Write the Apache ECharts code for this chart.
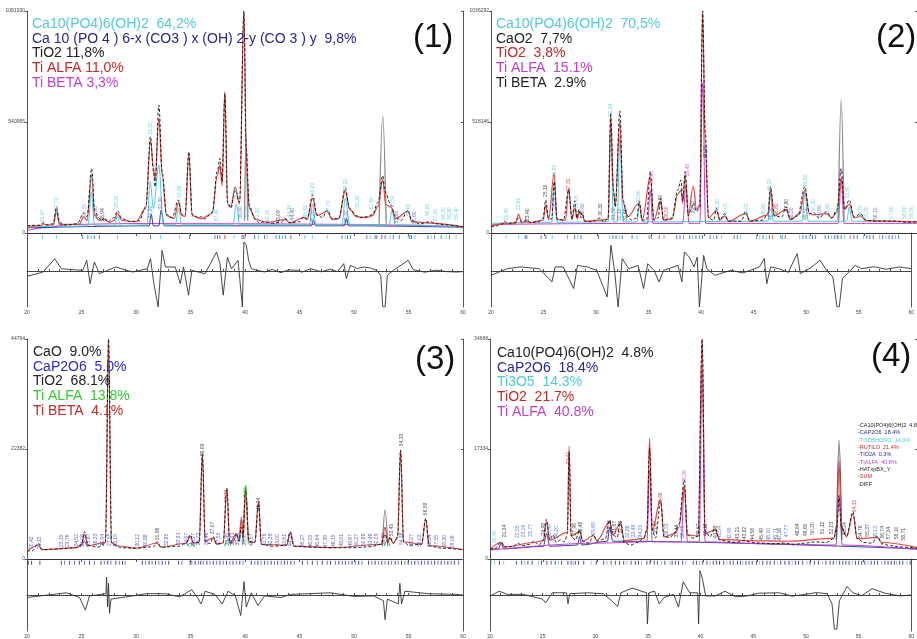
<!DOCTYPE html>
<html>
<head>
<meta charset="utf-8">
<script src="https://cdn.jsdelivr.net/npm/echarts@6/dist/echarts.min.js"></script>
<style>
  html, body { margin: 0; padding: 0; background: #fff; }
  #chart { width: 917px; height: 639px; }
</style>
</head>
<body>
<div id="chart"></div>
<script>
// ---------- panel (1) ----------
var p1Top = 1081930;
var p1Obs = [[20,36000],[21.2,38000],[21.5,50000],[21.8,40000],[22.4,45000],[22.7,125000],[23.0,50000],[23.6,38000],[24.6,45000],[25.2,97000],[25.5,80000],[25.94,315000],[26.2,110000],[26.6,73000],[26.8,60000],[27.1,75000],[27.4,55000],[28.0,75000],[28.3,109000],[28.7,70000],[29.5,55000],[30.3,60000],[30.9,130000],[31.33,470000],[31.6,300000],[31.75,225000],[32.1,624000],[32.4,300000],[32.8,90000],[33.3,75000],[33.9,161000],[34.2,90000],[34.5,85000],[34.85,396000],[35.15,90000],[35.7,75000],[36.0,80000],[36.3,68000],[37.0,100000],[37.45,300000],[37.7,364000],[37.9,250000],[38.15,680000],[38.4,150000],[38.7,120000],[39.1,210000],[39.5,150000],[39.9,1081000],[40.1,420000],[40.4,130000],[40.9,70000],[41.3,50000],[41.8,55000],[42.5,48000],[43.3,52000],[43.7,70000],[44.1,50000],[45.0,55000],[45.4,80000],[45.7,70000],[46.2,185000],[46.6,90000],[47.1,75000],[47.55,112000],[48.0,70000],[48.6,70000],[49.2,218000],[49.6,120000],[50.2,85000],[50.6,75000],[51.2,80000],[51.7,90000],[52.2,150000],[52.64,280000],[52.85,200000],[53.4,136000],[53.8,80000],[54.3,60000],[54.97,112000],[55.3,60000],[56.0,45000],[57.0,55000],[57.5,45000],[58.5,40000],[59.3,35000],[60,30000]];
var p1Calc = [[20,32000],[21.3,36000],[21.5,45000],[21.8,38000],[22.4,40000],[22.7,110000],[23.0,42000],[24.8,42000],[25.2,80000],[25.5,60000],[25.94,285000],[26.2,90000],[26.6,62000],[27.1,65000],[27.6,52000],[28.0,62000],[28.3,95000],[28.7,62000],[30.0,55000],[30.9,120000],[31.33,450000],[31.6,320000],[31.75,260000],[32.1,560000],[32.4,280000],[32.8,85000],[33.5,70000],[33.9,150000],[34.2,85000],[34.5,80000],[34.85,385000],[35.15,85000],[36.0,70000],[37.0,95000],[37.45,280000],[37.7,330000],[37.9,230000],[38.15,689000],[38.4,140000],[38.7,130000],[39.1,225000],[39.5,140000],[39.9,1081000],[40.15,300000],[40.4,120000],[41.0,65000],[42.0,52000],[43.7,65000],[44.1,50000],[45.4,75000],[45.7,65000],[46.2,170000],[46.6,85000],[47.55,105000],[48.0,65000],[48.6,70000],[49.2,205000],[49.6,115000],[50.2,80000],[51.2,75000],[51.7,85000],[52.2,130000],[52.64,260000],[52.9,140000],[53.4,125000],[53.8,70000],[54.97,105000],[55.3,55000],[57.0,48000],[60,30000]];
var p1Cyan = [[20,30000],[22.4,32000],[22.7,95000],[23.0,32000],[25.6,35000],[25.9,200000],[26.2,36000],[28.0,36000],[28.3,80000],[28.6,36000],[31.0,40000],[31.3,250000],[31.6,120000],[32.1,330000],[32.5,40000],[33.6,40000],[33.9,120000],[34.2,40000],[38.9,40000],[39.2,140000],[39.5,40000],[45.9,40000],[46.2,140000],[46.5,40000],[48.9,40000],[49.2,170000],[49.6,40000],[53.2,40000],[53.5,110000],[53.8,40000],[60,30000]];
var p1Blue = [[20,25000],[31.2,35000],[31.4,90000],[31.6,35000],[32.1,35000],[32.3,110000],[32.6,35000],[46.1,35000],[46.3,60000],[46.5,35000],[49.1,35000],[49.3,70000],[49.5,35000],[60,28000]];
var p1Back = [[20,12000],[22,28000],[24,42000],[30,46000],[40,45000],[50,42000],[55,38000],[60,30000]];
var p1Gray = [[39.95,60000],[40.1,470000],[40.25,60000],[40.3,'-'],[52.3,45000],[52.64,570000],[52.95,45000]];
var p1Diff = [[20.0,-26000],[21.48,-5000],[22.55,60000],[23.15,11000],[25.12,3000],[25.48,52000],[25.79,-62000],[26.18,44000],[26.64,-13000],[28.15,19500],[29.67,-5000],[31.03,11000],[31.33,60000],[31.64,-62000],[32.03,-175000],[32.39,100000],[32.7,19500],[33.6,19500],[34.06,-62000],[34.36,19500],[34.82,-118000],[35.12,3000],[36.33,-13000],[37.39,92000],[37.7,36000],[38.0,-118000],[38.39,68000],[38.76,11000],[39.36,52000],[39.76,-175000],[39.9,141000],[40.12,125000],[40.33,52000],[40.58,11000],[41.79,-5000],[42.5,8000],[43.3,-8000],[44.0,6000],[44.82,3000],[45.2,-6000],[46.03,11000],[47.0,-4000],[47.8,9000],[48.5,-3000],[49.06,36000],[49.3,-37000],[49.67,28000],[50.3,12000],[50.88,19500],[51.5,15000],[52.09,3000],[52.45,-21000],[52.64,-175000],[52.85,-175000],[53.06,-21000],[53.6,3000],[54.97,52000],[55.43,6500],[56.5,-6000],[57.5,4000],[58.5,-3000],[59.36,-5000],[60,-3000]];
var p1TicksCyan = [21.42,22.70,25.88,28.30,32.24,34.0,39.0,41.24,42.03,43.45,45.48,46.18,47.55,49.2,51.48,53.3,54.97,55.58,57.09,58.45,59.36];
var p1TicksBlue = [25.12,25.58,26.18,26.64,31.33,37.24,37.48,39.73,40.88,41.79,42.85,43.15,43.7,44.2,48.9,49.4,49.67,51.18,51.94,52.09,52.85,53.6,54.15,55.12,55.27,56.79,57.39,58.0,58.76];
var p1TicksRed = [34.9,37.70,38.15,52.55];
var p1TicksMag = [39.85,40.0];
var p1LabCyan = [[21.47,83000],[22.72,141000],[25.3,112000],[25.95,245000],[28.2,153000],[31.3,510000],[33.98,201000],[37.4,88000],[39.1,190000],[40.2,100000],[41.2,92000],[42.1,83000],[44.1,107000],[45.6,107000],[46.2,214000],[47.7,128000],[49.2,234000],[50.3,153000],[51.6,145000],[53.5,153000],[55.0,112000],[56.8,112000],[57.5,88000],[58.2,95000],[58.8,95000],[59.4,95000]];
var p1LabBlue = [[26.3,100000],[31.3,102000],[32.3,145000],[39.6,100000],[44.4,92000],[46.2,80000],[49.3,80000],[53.9,78000],[55.6,75000]];
var p1LabBlack = [[26.94,90000],[43.09,80000]];

// ---------- panel (2) ----------
var p2Top = 1036292;
var p2Obs = [[20,30000],[20.5,33000],[21.0,40000],[21.28,55000],[21.6,45000],[22.3,50000],[22.58,70000],[22.9,50000],[23.34,60000],[23.7,50000],[24.5,52000],[24.9,70000],[25.13,154000],[25.4,70000],[25.7,65000],[25.93,240000],[26.2,65000],[26.8,60000],[27.29,200000],[27.6,65000],[27.87,150000],[28.05,70000],[28.27,110000],[28.45,70000],[28.57,95000],[28.8,55000],[29.5,52000],[30.24,70000],[30.6,50000],[31.0,70000],[31.24,560000],[31.5,200000],[31.67,120000],[32.1,570000],[32.4,150000],[32.82,80000],[33.2,60000],[33.7,70000],[33.92,150000],[34.2,60000],[34.6,60000],[34.95,286000],[35.3,60000],[35.7,70000],[35.92,162000],[36.2,60000],[37.0,70000],[37.53,200000],[37.84,247000],[38.0,150000],[38.23,286000],[38.53,80000],[38.8,110000],[38.99,140000],[39.3,100000],[39.6,120000],[39.87,1036000],[40.12,470000],[40.42,70000],[40.9,60000],[41.18,115000],[41.5,60000],[41.94,90000],[42.3,55000],[43.5,55000],[43.91,100000],[44.3,55000],[45.5,60000],[46.0,90000],[46.25,216000],[46.6,80000],[47.3,75000],[47.71,123000],[48.1,65000],[48.8,80000],[49.47,216000],[49.9,90000],[50.29,95000],[50.8,70000],[51.51,100000],[52.0,70000],[52.5,110000],[52.88,300000],[53.2,110000],[53.64,154000],[54.1,75000],[54.7,90000],[55.2,60000],[56.0,55000],[57.0,55000],[58.0,55000],[59.0,50000],[60,52000]];
var p2Calc = [[20,30000],[21.28,45000],[21.6,42000],[22.3,45000],[22.58,88000],[22.9,48000],[23.34,55000],[23.7,48000],[24.9,60000],[25.13,130000],[25.4,62000],[25.93,278000],[26.2,62000],[27.0,60000],[27.29,208000],[27.6,62000],[27.87,120000],[28.1,65000],[28.27,100000],[28.57,85000],[28.8,55000],[30.24,60000],[31.0,65000],[31.24,540000],[31.5,190000],[31.67,130000],[32.1,520000],[32.4,140000],[32.82,75000],[33.92,140000],[34.2,60000],[34.95,262000],[35.3,60000],[35.92,150000],[36.2,60000],[37.0,65000],[37.53,180000],[37.84,200000],[38.0,140000],[38.23,265000],[38.53,85000],[38.99,219000],[39.3,110000],[39.6,130000],[39.87,1036000],[40.12,400000],[40.42,70000],[41.18,105000],[41.5,60000],[41.94,80000],[42.3,55000],[43.91,90000],[44.3,55000],[46.0,85000],[46.25,200000],[46.6,80000],[47.71,110000],[48.1,62000],[49.0,90000],[49.47,200000],[49.9,90000],[50.29,85000],[51.51,90000],[52.0,70000],[52.5,100000],[52.88,256000],[53.2,110000],[53.64,135000],[54.1,70000],[54.7,80000],[55.2,58000],[60,52000]];
var p2Cyan = [[20,45000],[25.7,50000],[25.93,230000],[26.2,50000],[31.0,52000],[31.24,480000],[31.5,52000],[31.85,52000],[32.1,450000],[32.4,52000],[33.7,52000],[33.92,130000],[34.2,52000],[46.0,55000],[46.25,180000],[46.5,55000],[49.2,55000],[49.47,190000],[49.8,55000],[53.4,55000],[53.64,120000],[53.9,55000],[60,52000]];
var p2Mag = [[20,40000],[34.7,45000],[34.95,200000],[35.2,45000],[38.0,45000],[38.3,220000],[38.6,45000],[39.6,45000],[39.87,700000],[40.15,45000],[52.6,45000],[52.88,250000],[53.15,45000],[60,45000]];
var p2Gray = [[52.6,60000],[52.88,621000],[53.15,60000]];
var p2Diff = [[20.0,-20000],[21.55,11000],[22.77,19000],[24.59,11000],[25.8,-51000],[26.11,19000],[26.87,19000],[27.87,-82000],[28.23,26000],[29.15,19000],[30.06,3000],[31.06,-121000],[31.42,120000],[31.79,-12000],[32.1,-168000],[32.49,58000],[33.1,11000],[34.01,26000],[34.52,-82000],[34.92,34000],[35.53,3000],[35.98,-51000],[36.44,3000],[37.8,26000],[38.17,-51000],[38.41,89000],[38.87,65000],[39.33,19000],[39.63,65000],[39.84,-168000],[40.24,73000],[40.54,11000],[41.3,-20000],[42.82,3000],[44.0,-9000],[45.55,19000],[46.01,58000],[46.25,-59000],[46.62,19000],[47.38,11000],[48.3,-6000],[49.14,81000],[49.44,-12000],[50.4,14000],[51.33,50000],[51.93,3000],[52.54,-28000],[52.94,-168000],[53.15,-168000],[53.45,-36000],[54.67,26000],[55.28,11000],[56.5,20000],[57.6,8000],[58.83,19000],[60,11000]];
var p2TicksCyan = [21.43,22.64,25.83,28.27,31.3,32.2,33.89,39.2,41.18,41.94,43.76,45.58,46.19,47.56,49.38,50.29,52.42,53.64,55.46,56.98,57.59,58.5];
var p2TicksNavy = [23.25,23.4,24.77,25.23,27.96,28.57,30.24,31.6,31.9,32.5,33.43,35.25,36.01,37.68,37.99,38.9,39.51,40.12,40.87,41.48,43.15,43.45,45.28,45.89,46.5,47.71,48.01,49.69,49.99,50.6,50.9,51.81,52.12,52.72,53.03,53.33,54.55,54.86,55.77,56.07,56.38,57.28,57.89,58.2,58.8];
var p2TicksRed = [27.29,36.47,46.8,54.2];
var p2TicksMag = [35.05,38.32,39.85,52.95];
var p2LabCyan = [[21.45,88000],[22.6,135000],[25.95,290000],[28.05,146000],[31.24,574000],[33.9,170000],[41.3,130000],[42.0,110000],[44.0,110000],[45.6,110000],[46.2,224000],[49.5,243000],[50.3,130000],[51.6,110000],[52.6,100000],[53.5,190000],[54.7,100000],[55.3,95000],[57.6,95000],[58.8,95000],[59.5,95000]];
var p2LabBlue = [[26.0,140000],[28.6,110000],[31.5,90000],[32.1,85000],[39.0,120000],[46.3,90000],[48.2,90000],[49.5,90000],[50.9,100000],[56.1,90000]];
var p2LabBlack = [[23.4,85000],[25.15,197000],[30.3,110000],[32.6,85000],[35.9,150000],[40.15,380000],[47.8,130000]];
var p2LabRed = [[27.3,225000],[36.5,95000],[46.8,110000]];
var p2LabMag = [[35.1,263000],[38.45,294000],[52.9,270000]];

// ---------- panel (3) ----------
var p3Top = 44764;
var p3Obs = [[20,1600],[20.5,1700],[21.03,3200],[21.4,1900],[22.5,2000],[23.5,2100],[24.5,2300],[25.0,3000],[25.27,5560],[25.6,2800],[26.5,2400],[27.2,3200],[27.48,44764],[27.75,3300],[28.15,2850],[28.6,2300],[30.0,2200],[31.6,2500],[31.94,3530],[32.3,2400],[34.0,2600],[34.6,3300],[34.97,4880],[35.3,3200],[35.8,3400],[36.09,21160],[36.35,3600],[36.8,3100],[37.09,4540],[37.4,3000],[38.0,3300],[38.33,14390],[38.6,3300],[38.9,3300],[39.21,5290],[39.45,3700],[39.67,6500],[39.8,4500],[40.06,14040],[40.35,3600],[40.9,3400],[41.24,11330],[41.5,3000],[42.5,2600],[43.8,2800],[44.15,5560],[44.5,2600],[46,2400],[48,2300],[50,2300],[51.5,2500],[52.5,3000],[52.85,5000],[53.1,3400],[53.3,4540],[53.6,3200],[54.0,4500],[54.27,22180],[54.55,3500],[55.0,2800],[56.2,3000],[56.58,8280],[56.9,2700],[58,2200],[60,1900]];
var p3Calc = [[20,1600],[21.03,2800],[21.4,1900],[24.5,2300],[25.0,2800],[25.27,5000],[25.6,2700],[27.2,3400],[27.48,44764],[27.75,3400],[28.15,2700],[30.0,2200],[31.94,3200],[32.3,2400],[34.6,3200],[34.97,4600],[35.3,3200],[35.8,3500],[36.09,21500],[36.35,3600],[37.09,4300],[37.4,3000],[38.0,3300],[38.33,14390],[38.6,3300],[39.21,5000],[39.45,3700],[39.67,8000],[39.85,4500],[40.06,14500],[40.35,3500],[40.9,3400],[41.24,11800],[41.5,3000],[43.8,2800],[44.15,5300],[44.5,2600],[48,2300],[52.5,3000],[52.85,6500],[53.1,3400],[53.3,4300],[53.6,3200],[54.0,4300],[54.27,22180],[54.55,3500],[56.2,3000],[56.58,8000],[56.9,2700],[60,1900]];
var p3Green = [[34.9,2400],[35.2,3000],[35.4,2400],[35.5,'-'],[38.1,2600],[38.45,4000],[38.7,2600],[38.8,'-'],[39.8,3000],[40.06,15000],[40.3,3000],[40.4,'-'],[52.8,2600],[53.05,4000],[53.3,2600]];
var p3Blue = [[24.9,2400],[25.27,3500],[25.6,2400],[25.7,'-'],[34.7,2600],[35.0,3200],[35.3,2600]];
var p3Gray = [[39.5,3500],[39.67,8610],[39.85,3500],[39.9,'-'],[52.6,2600],[52.85,9970],[53.1,2600]];
var p3Diff = [[20.0,-540],[23.61,475],[24.82,-540],[25.36,-3250],[25.73,-200],[27.24,270],[27.3,3860],[27.39,-2580],[27.48,2510],[27.57,-3930],[27.7,-880],[29.67,-200],[31.0,300],[32.7,270],[34.0,-400],[35.12,1150],[35.73,-880],[35.94,-1900],[36.09,-1220],[36.33,810],[37.24,135],[37.91,-1900],[38.45,810],[39.12,-200],[39.61,-4410],[39.91,2850],[40.12,-2580],[40.58,475],[41.18,-2240],[41.79,-200],[43.3,-540],[44.21,135],[46.0,300],[47.85,475],[50.0,-300],[51.79,-200],[52.7,-1220],[52.85,-5290],[53.06,-880],[54.06,-1900],[54.21,2510],[54.36,-1900],[54.67,810],[56.94,270],[59.36,135],[60,0]];
var p3TicksNavy = [20.12,20.42,21.18,23.15,23.91,24.8,25.73,26.79,27.41,28.15,28.76,30.58,31.2,31.79,32.41,33.0,33.91,34.97,35.42,35.94,36.5,37.09,37.7,38.3,38.9,39.52,40.58,41.18,41.8,42.4,43.0,43.61,44.21,45.27,46.18,47.09,47.85,48.61,49.21,49.82,50.43,51.33,51.94,52.55,53.15,53.78,54.36,54.97,55.58,56.18,56.79,57.4,58.0,58.61,59.21];
var p3TicksBlue = [23.45,24.36,25.27,26.18,27.09,27.7,28.47,29.0,30.88,31.48,32.09,32.7,34.21,35.12,35.73,36.18,36.79,37.4,38.0,38.61,39.21,39.82,40.9,41.48,42.09,42.7,43.32,43.9,44.52,45.73,46.64,47.55,48.3,48.93,49.52,50.12,50.73,51.64,52.26,52.85,53.45,54.06,54.67,55.28,55.88,56.48,57.09,57.7,58.3,58.91,59.6];
var p3LabBlue = [[20.42,3300],[21.12,3300],[23.15,3700],[23.76,3700],[24.52,3800],[25.06,3800],[25.67,3900],[26.33,3900],[26.94,3800],[27.55,3900],[28.15,3800],[30.12,3800],[30.88,3700],[32.85,3900],[33.91,4100],[34.67,4000],[35.27,4000],[35.73,4000],[36.48,4100],[37.55,4100],[38.45,4000],[38.91,4100],[39.36,4000],[39.97,4000],[40.57,3900],[41.79,3900],[42.39,3900],[43.0,3800],[43.61,3800],[44.15,3900],[45.27,3700],[46.03,3600],[46.64,3600],[47.39,3600],[48.15,3700],[48.91,3800],[49.67,3800],[50.27,3800],[50.88,3900],[51.48,3900],[52.09,3900],[52.7,4000],[54.36,4100],[55.27,3800],[56.03,3700],[56.94,3700],[57.55,3600],[58.3,3600],[59.06,3500]];
var p3LabBlack = [[31.96,5100],[37.07,6300],[41.24,11200],[53.45,5900],[56.58,10200],[36.09,22180],[54.33,24200]];
var p3LabRed = [[38.33,12800]];
var p3LabGreen = [[40.06,13400]];

// ---------- panel (4) ----------
var p4Top = 34668;
var p4Obs = [[20,1500],[20.5,1700],[21.03,2730],[21.4,1900],[22.2,2000],[22.6,2500],[23.0,2100],[23.7,2300],[24.1,2800],[24.6,2200],[25.0,3000],[25.29,6250],[25.6,3000],[25.9,3800],[26.2,2600],[26.6,3000],[27.0,2700],[27.25,4000],[27.41,16910],[27.6,3600],[28.0,3000],[28.39,4570],[28.7,2800],[29.3,2500],[29.69,3900],[30.0,2800],[30.8,3200],[31.21,6150],[31.5,3800],[31.9,3400],[32.22,5940],[32.6,2500],[33.2,2200],[33.8,2600],[34.4,3300],[34.7,4500],[34.95,17440],[35.2,4500],[35.5,3300],[35.98,9030],[36.3,3500],[36.9,3400],[37.3,4200],[37.7,5500],[38.2,12450],[38.5,3800],[39.0,3300],[39.5,3600],[39.87,34668],[40.15,4400],[40.6,3500],[41.09,4830],[41.5,3000],[42.2,2800],[43.0,2600],[43.8,2900],[44.5,2600],[45.5,2500],[46.5,2400],[47.5,2500],[48.5,2300],[49.5,2500],[50.5,2700],[51.5,2600],[52.2,3200],[52.5,5000],[52.7,10000],[52.9,5000],[53.4,3600],[54.0,7460],[54.4,3200],[55.0,2600],[55.8,2500],[56.28,3600],[56.7,2400],[57.5,2100],[58.5,1900],[60,1700]];
var p4Calc = [[20,1500],[21.03,2600],[21.4,1900],[24.1,2600],[25.0,2900],[25.29,5800],[25.6,3000],[27.25,4200],[27.41,17800],[27.6,3600],[28.39,4300],[28.7,2800],[29.69,3700],[30.0,2900],[31.21,5800],[31.5,3800],[32.22,5600],[32.6,2900],[34.4,3200],[34.7,4600],[34.95,19000],[35.2,4500],[35.98,9400],[36.3,3500],[37.3,4000],[37.7,5000],[38.2,11500],[38.5,3800],[39.5,3600],[39.87,34668],[40.15,4000],[41.09,4600],[41.5,3100],[44,2900],[48,2800],[52.2,3300],[52.5,5500],[52.7,15500],[52.9,5200],[53.4,3500],[54.0,7100],[54.4,3200],[56.28,3400],[56.7,2600],[60,1800]];
var p4Mag = [[20,1400],[30,2500],[34.7,2700],[34.95,14000],[35.2,2700],[37.9,2700],[38.2,11500],[38.5,2700],[39.6,2700],[39.87,30000],[40.15,2700],[46,2400],[52.4,2200],[52.7,9820],[53.0,2200],[60,1500]];
var p4Navy = [[20,1500],[20.8,1600],[21.03,2500],[21.3,1600],[25.0,2000],[25.29,4000],[25.6,2000],[28.2,2200],[28.39,3500],[28.6,2200],[31.0,2800],[31.21,5000],[31.5,2800],[60,1600]];
var p4Gray = [[52.45,3000],[52.7,18750],[52.95,3000]];
var p4Diff = [[20.03,-160],[20.88,630],[21.64,105],[23.16,105],[24.98,-680],[25.29,-1310],[25.9,370],[27.27,370],[27.41,-1470],[27.57,210],[29.24,370],[30.76,210],[31.37,-680],[32.12,-1890],[32.43,370],[33.49,1155],[34.86,370],[34.95,-4830],[35.1,370],[35.62,630],[36.07,-1470],[36.53,-420],[37.44,105],[37.9,-2000],[38.35,2200],[38.96,370],[39.72,370],[39.81,-4830],[39.94,4040],[40.17,2730],[40.48,-160],[41.39,-160],[42.31,630],[43.3,-300],[44.43,-160],[45.5,300],[47.47,370],[48.7,-200],[49.9,105],[51.0,400],[52.02,210],[52.48,-1470],[52.7,-5670],[52.94,-5670],[53.18,-945],[53.91,1420],[54.46,370],[55.3,-100],[56.28,1050],[57.5,300],[58.92,-160],[60,0]];
var p4TicksLight = [20.12,20.45,21.3,23.3,24.6,26.5,27.9,29.6,31.1,33.0,34.4,36.3,37.1,38.6,39.9,40.9,42.5,44.0,45.6,47.3,48.7,50.1,51.6,52.9,54.4,55.9,57.2,58.6,59.6];
var p4TicksNavy = [20.9,22.5,23.0,23.6,24.0,24.9,25.4,25.8,26.2,26.8,27.4,27.7,28.1,28.4,28.9,30.1,30.8,31.5,31.9,32.3,32.7,33.4,33.8,34.1,34.9,35.2,35.6,35.9,36.6,37.3,37.6,37.9,38.3,39.3,39.6,40.2,40.6,41.2,41.5,41.8,42.2,42.8,43.1,43.5,43.8,44.3,44.6,44.9,45.3,45.9,46.3,46.6,47.0,47.6,48.0,48.4,49.0,49.3,49.7,50.4,50.8,51.2,51.9,52.3,52.6,53.2,53.5,53.8,54.1,54.7,55.0,55.3,55.6,56.2,56.5,56.8,57.5,57.8,58.1,58.4,58.9,59.2,59.9];
var p4LabCyan = [[20.4,3500]];
var p4LabBlue = [[22.55,4300],[23.16,4400],[23.77,4500],[25.59,4500],[26.2,4200],[29.69,4800],[32.88,4300],[33.49,4400],[34.1,4400],[36.53,4600],[38.05,4300],[41.54,4200],[42.45,4000],[46.1,3900],[46.71,3900],[47.77,4400],[56.13,4200]];
var p4LabBlack = [[21.34,4400],[24.98,4700],[27.96,4700],[28.48,4900],[31.21,5200],[31.67,5000],[32.28,5000],[35.47,5000],[37.44,4400],[39.57,4600],[40.18,4600],[41.09,4300],[43.21,4100],[43.82,4100],[44.58,3900],[45.49,3900],[47.16,3900],[48.84,4600],[49.6,4600],[50.2,4800],[51.12,4900],[52.03,4900],[53.24,4800],[54.76,4300],[55.37,4500],[56.74,4200],[57.34,4100],[58.1,4100],[58.71,3900]];
var p4LabRed = [[27.41,15900],[35.98,9500],[54.15,8350]];
var p4LabMag = [[38.26,13000],[52.79,8830]];

// phase texts
var p1Text = [['c','Ca10(PO4)6(OH)2  64,2%'],['n','Ca 10 (PO 4 ) 6-x (CO3 ) x (OH) 2-y (CO 3 ) y  9,8%'],['k','TiO2 11,8%'],['r','Ti ALFA 11,0%'],['m','Ti BETA 3,3%']];
var p2Text = [['c','Ca10(PO4)6(OH)2  70,5%'],['k','CaO2  7,7%'],['r','TiO2  3,8%'],['m','Ti ALFA  15.1%'],['k','Ti BETA  2.9%']];
var p3Text = [['k','CaO  9.0%'],['b','CaP2O6  5.0%'],['k','TiO2  68.1%'],['g','Ti ALFA  13.8%'],['r','Ti BETA  4.1%']];
var p4Text = [['k','Ca10(PO4)6(OH)2  4.8%'],['n','CaP2O6  18.4%'],['c','Ti3O5  14.3%'],['r','TiO2  21.7%'],['m','Ti ALFA  40.8%']];
var p4Legend = [['k','-CA10(PO4)6(OH)2  4.8%'],['n','-CAP2O6  18.4%'],['c','-TI3O5HONO  14.3%'],['r','-RUTILO  21.4%'],['n','-TIO2A  0.3%'],['m','-TIALFA  40.8%'],['k','-HATxpBX_Y'],['r','-SUM'],['k','-DIFF']];

var C = { c: '#4fcbd8', n: '#27278f', k: '#222222', r: '#c42828', m: '#c040c8', b: '#2a2ac4', g: '#33cc33', blue: '#3a5cc0', gray: '#8a8a8a' };

var layout = [
  { left: 27,  width: 436, top: 11,  mainH: 222, diffH: 74, up: 38, down: 36 },
  { left: 491, width: 439, top: 11,  mainH: 222, diffH: 74, up: 38, down: 36 },
  { left: 27,  width: 436, top: 339, mainH: 220, diffH: 76, up: 38, down: 38 },
  { left: 490, width: 439, top: 339, mainH: 220, diffH: 76, up: 38, down: 38 }
];

var panels = [
  { top: p1Top, obs: p1Obs, calc: p1Calc, diff: p1Diff,
    phases: [[p1Back, C.m, 1], [p1Blue, C.n, 0.9], [p1Cyan, C.c, 1], [p1Gray, C.gray, 1.3]],
    ticks: [[p1TicksBlue, C.blue], [p1TicksCyan, C.c], [p1TicksRed, C.r], [p1TicksMag, C.m]],
    labs: [[p1LabCyan, C.c], [p1LabBlue, C.blue], [p1LabBlack, C.k]] },
  { top: p2Top, obs: p2Obs, calc: p2Calc, diff: p2Diff,
    phases: [[p2Cyan, C.c, 1], [p2Mag, C.m, 1], [p2Gray, C.gray, 1.3]],
    ticks: [[p2TicksNavy, C.blue], [p2TicksCyan, C.c], [p2TicksRed, '#e06060'], [p2TicksMag, C.m]],
    labs: [[p2LabCyan, C.c], [p2LabBlue, C.blue], [p2LabBlack, C.k], [p2LabRed, C.r], [p2LabMag, C.m]] },
  { top: p3Top, obs: p3Obs, calc: p3Calc, diff: p3Diff,
    phases: [[p3Blue, C.b, 0.9], [p3Green, C.g, 1], [p3Gray, C.gray, 1.3]],
    ticks: [[p3TicksBlue, '#4a5cc8'], [p3TicksNavy, '#1e1e78']],
    labs: [[p3LabBlue, '#3a3ab0'], [p3LabBlack, C.k], [p3LabRed, C.r], [p3LabGreen, C.g]] },
  { top: p4Top, obs: p4Obs, calc: p4Calc, diff: p4Diff,
    phases: [[p4Navy, C.n, 0.9], [p4Mag, C.m, 1], [p4Gray, '#555', 1.2]],
    ticks: [[p4TicksLight, '#7fb0e0'], [p4TicksNavy, '#26268a']],
    labs: [[p4LabCyan, C.c], [p4LabBlue, C.blue], [p4LabBlack, C.k], [p4LabRed, C.r], [p4LabMag, C.m]] }
];

var grids = [], xAxes = [], yAxes = [], series = [], titles = [];
var axisColor = '#555';
var labelFmt = function (p) { return p.value[0].toFixed(2).replace('.', ','); };

panels.forEach(function (p, k) {
  var L = layout[k];
  var s = p.top / L.mainH;
  grids.push({ left: L.left, width: L.width, top: L.top, height: L.mainH });
  grids.push({ left: L.left, width: L.width, top: L.top + L.mainH, height: L.diffH });
  var gm = 2 * k, gd = 2 * k + 1;
  var xm = 3 * k, xd = 3 * k + 2;
  var ym = 4 * k, yd = 4 * k + 2;

  xAxes.push({ type: 'value', gridIndex: gm, position: 'top', min: 20, max: 60, interval: 5,
    axisLine: { lineStyle: { color: axisColor } }, axisTick: { inside: true, length: 3, lineStyle: { color: axisColor } },
    axisLabel: { show: false }, splitLine: { show: false } });
  xAxes.push({ type: 'value', gridIndex: gm, position: 'bottom', min: 20, max: 60,
    axisLine: { lineStyle: { color: '#333' } }, axisTick: { show: false }, axisLabel: { show: false }, splitLine: { show: false } });
  xAxes.push({ type: 'value', gridIndex: gd, position: 'bottom', min: 20, max: 60, interval: 1,
    axisLine: { lineStyle: { color: axisColor } }, axisTick: { inside: true, length: 2, lineStyle: { color: axisColor } },
    axisLabel: { interval: 0, fontSize: 5, color: '#444', margin: 3, showMaxLabel: true, showMinLabel: true,
      formatter: function (v) { return v % 5 === 0 ? String(v) : ''; } },
    splitLine: { show: false } });

  yAxes.push({ type: 'value', gridIndex: gm, position: 'left', min: 0, max: p.top, interval: p.top / 2,
    axisLine: { show: true, lineStyle: { color: axisColor } }, axisTick: { show: true, length: 2, lineStyle: { color: axisColor } },
    axisLabel: { fontSize: 5, color: '#444', margin: 2, formatter: function (v) { return String(Math.round(v)); } },
    splitLine: { show: false } });
  yAxes.push({ type: 'value', gridIndex: gm, position: 'right', min: 0, max: p.top, interval: p.top / 2,
    axisLine: { show: true, lineStyle: { color: axisColor } }, axisTick: { show: true, inside: true, length: 2, lineStyle: { color: axisColor } },
    axisLabel: { show: false }, splitLine: { show: false } });
  yAxes.push({ type: 'value', gridIndex: gd, position: 'left', min: -L.down * s, max: L.up * s,
    axisLine: { show: true, lineStyle: { color: axisColor } }, axisTick: { show: false }, axisLabel: { show: false }, splitLine: { show: false } });
  yAxes.push({ type: 'value', gridIndex: gd, position: 'right', min: -L.down * s, max: L.up * s,
    axisLine: { show: true, lineStyle: { color: axisColor } }, axisTick: { show: false }, axisLabel: { show: false }, splitLine: { show: false } });

  function line(data, color, width, type, z, yi, xi) {
    return { type: 'line', xAxisIndex: xi, yAxisIndex: yi, data: data, symbol: 'none', silent: true,
      smooth: 0.35, smoothMonotone: 'x',
      lineStyle: { color: color, width: width, type: type || 'solid' }, z: z };
  }

  p.phases.forEach(function (ph, i) { series.push(line(ph[0], ph[1], ph[2], 'solid', 2 + i * 0.01, ym, xm)); });
  series.push(line(p.calc, '#dd4a4a', 1.2, 'solid', 3, ym, xm));
  series.push(line(p.obs, '#111', 0.9, [3, 2], 4, ym, xm));

  var d = line(p.diff, '#333', 0.9, 'solid', 3, yd, xd);
  d.smooth = false;
  d.markLine = { silent: true, symbol: 'none', label: { show: false },
    lineStyle: { type: 'dotted', color: '#333', width: 1 }, data: [{ yAxis: 0 }] };
  series.push(d);

  p.ticks.forEach(function (t) {
    series.push({ type: 'scatter', xAxisIndex: xd, yAxisIndex: yd, silent: true, symbol: 'rect', symbolSize: [1, 4],
      itemStyle: { color: t[1] }, data: t[0].map(function (x) { return [x, 34 * s]; }), z: 5 });
  });

  p.labs.forEach(function (lb) {
    series.push({ type: 'scatter', xAxisIndex: xm, yAxisIndex: ym, silent: true, symbolSize: 1,
      itemStyle: { color: 'rgba(0,0,0,0)' }, data: lb[0], z: 6,
      labelLayout: { hideOverlap: false },
      label: { show: true, position: 'inside', rotate: 90, fontSize: 5, color: lb[1], formatter: labelFmt } });
  });
});

function richText(lines) {
  return lines.map(function (l) { return '{' + l[0] + '|' + l[1] + '}'; }).join('\n');
}
function richStyles(fs, lh) {
  var r = {};
  Object.keys(C).forEach(function (key) { r[key] = { color: C[key], fontSize: fs, lineHeight: lh, fontFamily: 'Liberation Sans' }; });
  return r;
}

var legendPos = [[32, 17, p1Text], [496, 17, p2Text], [33, 345, p3Text], [497, 346, p4Text]];
legendPos.forEach(function (lp) {
  titles.push({ left: lp[0], top: lp[1], padding: 0, text: richText(lp[2]),
    textStyle: { fontSize: 14, fontWeight: 'normal', lineHeight: 14.6, rich: richStyles(14, 14.6) } });
});
var numPos = [[413, '(1)', 21], [876, '(2)', 21], [415, '(3)', 343], [871, '(4)', 340]];
numPos.forEach(function (np) {
  titles.push({ left: np[0], top: np[2], padding: 0, text: np[1],
    textStyle: { fontSize: 33, fontWeight: 'normal', color: '#111', fontFamily: 'Liberation Sans' } });
});
titles.push({ left: 858, top: 422, padding: 0, text: richText(p4Legend),
  textStyle: { fontSize: 5.5, fontWeight: 'normal', lineHeight: 7.3, rich: richStyles(5.5, 7.3) } });

var chart = echarts.init(document.getElementById('chart'));
chart.setOption({
  animation: false,
  backgroundColor: '#ffffff',
  textStyle: { fontFamily: 'Liberation Sans, Arial, sans-serif' },
  title: titles,
  grid: grids,
  xAxis: xAxes,
  yAxis: yAxes,
  series: series
});
</script>
</body>
</html>
